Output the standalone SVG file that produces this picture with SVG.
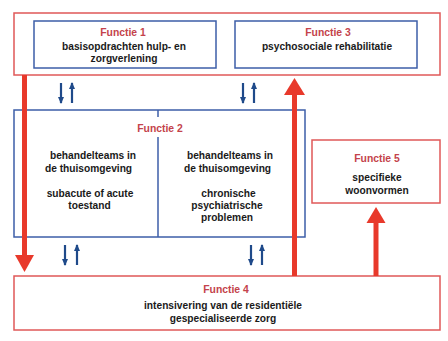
<svg xmlns="http://www.w3.org/2000/svg" width="448" height="341" viewBox="0 0 448 341">
<style>
.red{fill:#fff;stroke:#e05858;stroke-width:1.5}
.blue{fill:#fff;stroke:#3d5ea8;stroke-width:1.5}
.bl{fill:none;stroke:#3d5ea8;stroke-width:1.5}
.t{font-family:"Liberation Sans",Arial,sans-serif;font-weight:bold;font-size:10.4px;fill:#c4434b;text-anchor:middle}
.x{font-family:"Liberation Sans",Arial,sans-serif;font-weight:bold;font-size:10.2px;fill:#1a1a1a;text-anchor:middle}
.sa{stroke:#1f4a8a;stroke-width:2.2;fill:none}
.big{stroke:#e8392b;stroke-width:5;fill:none}
.head{fill:#e8392b}
</style>
<defs>
<marker id="sh" markerUnits="userSpaceOnUse" markerWidth="7" markerHeight="6" refX="6" refY="3" orient="auto" viewBox="0 0 7 6">
<path d="M0,0 L7,3 L0,6 Z" fill="#1f4a8a"/>
</marker>
</defs>
<rect width="448" height="341" fill="#fff"/>

<g id="top-frame">
<rect class="red" x="14" y="13" width="426" height="62"/>
</g>
<g id="functie1">
<rect class="blue" x="34" y="21" width="182" height="47"/>
<text class="t" x="123" y="36">Functie 1</text>
<text class="x" x="124" y="49.5">basisopdrachten hulp- en</text>
<text class="x" x="124" y="61.5">zorgverlening</text>
</g>
<g id="functie3">
<rect class="blue" x="235" y="21" width="182" height="47"/>
<text class="t" x="328" y="36">Functie 3</text>
<text class="x" x="327" y="49.5">psychosociale rehabilitatie</text>
</g>
<g id="functie2">
<rect class="blue" x="14" y="110" width="291" height="127"/>
<line class="bl" x1="158" y1="110" x2="158" y2="117"/>
<line class="bl" x1="158" y1="137" x2="158" y2="237"/>
<text class="t" x="160" y="132">Functie 2</text>
<text class="x" x="93" y="159">behandelteams in</text>
<text class="x" x="88.5" y="171.5">de thuisomgeving</text>
<text class="x" x="90" y="196.5">subacute of acute</text>
<text class="x" x="89.5" y="208.5">toestand</text>
<text class="x" x="230" y="159">behandelteams in</text>
<text class="x" x="227.5" y="171.5">de thuisomgeving</text>
<text class="x" x="228.5" y="196.5">chronische</text>
<text class="x" x="227" y="208.5">psychiatrische</text>
<text class="x" x="227" y="220.5">problemen</text>
</g>
<g id="functie5">
<rect class="red" x="312" y="140" width="128" height="63"/>
<text class="t" x="377" y="162">Functie 5</text>
<text class="x" x="377" y="180.5">specifieke</text>
<text class="x" x="377" y="193.5">woonvormen</text>
</g>
<g id="functie4">
<rect class="red" x="14" y="276" width="426" height="54"/>
<text class="t" x="226" y="293">Functie 4</text>
<text class="x" x="223" y="309">intensivering van de residentiële</text>
<text class="x" x="223" y="321.5">gespecialiseerde zorg</text>
</g>

<g id="connectors">
<line class="sa" x1="61" y1="83" x2="61" y2="103" marker-end="url(#sh)"/>
<line class="sa" x1="72" y1="103" x2="72" y2="83" marker-end="url(#sh)"/>
<line class="sa" x1="243" y1="83" x2="243" y2="103" marker-end="url(#sh)"/>
<line class="sa" x1="254" y1="103" x2="254" y2="83" marker-end="url(#sh)"/>
<line class="sa" x1="65" y1="245" x2="65" y2="265" marker-end="url(#sh)"/>
<line class="sa" x1="77" y1="265" x2="77" y2="245" marker-end="url(#sh)"/>
<line class="sa" x1="251" y1="245" x2="251" y2="265" marker-end="url(#sh)"/>
<line class="sa" x1="262" y1="265" x2="262" y2="245" marker-end="url(#sh)"/>

<line class="big" x1="24.5" y1="75" x2="24.5" y2="257"/>
<polygon class="head" points="15,255 34,255 24.5,272"/>
<line class="big" x1="294.5" y1="276" x2="294.5" y2="93"/>
<polygon class="head" points="284,95 305,95 294.5,78"/>
<line class="big" x1="376" y1="276" x2="376" y2="221"/>
<polygon class="head" points="366.5,223 385.5,223 376,207"/>
</g>
</svg>
